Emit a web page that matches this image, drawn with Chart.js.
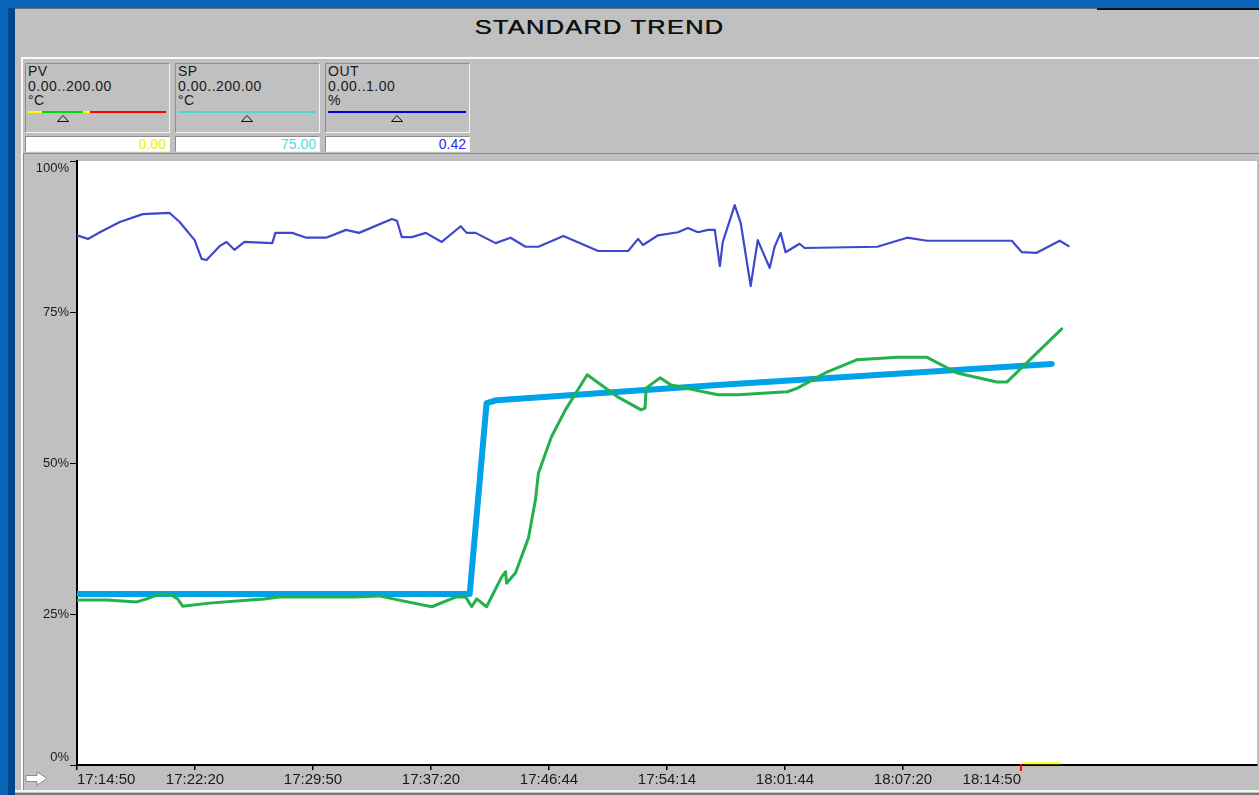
<!DOCTYPE html>
<html>
<head>
<meta charset="utf-8">
<title>STANDARD TREND</title>
<script src="https://cdn.jsdelivr.net/npm/chart.js@4.4.1/dist/chart.umd.min.js"></script>
<style>
  body { margin: 0; width: 1259px; height: 795px; overflow: hidden; position: relative;
         background: #0a66b8; font-family: "Liberation Sans", Arial, sans-serif; }
  .navy { position: absolute; left: 8px; top: 8px; width: 7px; height: 787px; background: #00468c; }
  .win { position: absolute; left: 15px; top: 8px; width: 1244px; height: 787px; background: #c0c0c0;
         border-top: 1px solid #6e6e6e; box-sizing: border-box; }
  .topblack { position: absolute; left: 1097px; top: 8px; width: 162px; height: 2px; background: #111; }
  .title { position: absolute; left: 0; top: 16px; width: 1198px; text-align: center; font-size: 20px;
           color: #111; letter-spacing: 1px; }
  .title span { display: inline-block; transform: scaleX(1.27); text-shadow: 0.4px 0 0 #111; }
  .panel { position: absolute; left: 21px; top: 57px; width: 1238px; height: 733px;
           border-top: 2px solid #fafafa; border-left: 2px solid #fafafa; box-sizing: border-box; }
  .tag { position: absolute; top: 63px; width: 145px; height: 70px; box-sizing: border-box;
         border: 1px solid; border-color: #8c8c8c #f2f2f2 #f2f2f2 #8c8c8c; background: #c0c0c0;
         font-size: 14px; line-height: 14.5px; color: #1a1a1a; letter-spacing: 0.5px; padding-left: 2px; }
  .tag .bar { position: absolute; left: 2px; top: 47px; width: 138px; height: 2px; }
  .tag svg { position: absolute; top: 51px; }
  .val { position: absolute; top: 136px; width: 145px; height: 16px; box-sizing: border-box;
         border: 1px solid; border-color: #8c8c8c #f2f2f2 #f2f2f2 #8c8c8c; background: #fff;
         font-size: 14px; line-height: 14px; text-align: right; padding-right: 3px; }
  .frame { position: absolute; left: 23px; top: 153px; width: 1236px; height: 637px; box-sizing: border-box;
           border-top: 1px solid #8a8a8a; border-left: 1px solid #8a8a8a; }
  #wrap { position: absolute; left: 25px; top: 155px; width: 1234px; height: 635px; }
  .arrow { position: absolute; left: 25px; top: 771px; }
  .bottomline { position: absolute; left: 15px; top: 790px; width: 1244px; height: 2px; background: #f4f4f4; }
  .bottomdark { position: absolute; left: 15px; top: 793px; width: 1244px; height: 2px; background: #7a7a7a; }
</style>
</head>
<body>
<div class="navy"></div>
<div class="win"></div>
<div class="topblack"></div>
<div class="title"><span>STANDARD TREND</span></div>
<div class="panel"></div>

<div class="tag" style="left:25px">PV<br>0.00..200.00<br>°C
  <div class="bar" style="background:linear-gradient(to right,#ffff00 0 14px,#00dd00 14px 55px,#ffff00 55px 62px,#ff0000 62px)"></div>
  <svg width="12" height="7" style="left:31px"><polygon points="6,0.5 11.5,6.5 0.5,6.5" fill="none" stroke="#111" stroke-width="1"/></svg>
</div>
<div class="tag" style="left:175px">SP<br>0.00..200.00<br>°C
  <div class="bar" style="background:#48d8d0"></div>
  <svg width="12" height="7" style="left:65px"><polygon points="6,0.5 11.5,6.5 0.5,6.5" fill="none" stroke="#111" stroke-width="1"/></svg>
</div>
<div class="tag" style="left:325px">OUT<br>0.00..1.00<br>%
  <div class="bar" style="background:#0000e0"></div>
  <svg width="12" height="7" style="left:65px"><polygon points="6,0.5 11.5,6.5 0.5,6.5" fill="none" stroke="#111" stroke-width="1"/></svg>
</div>

<div class="val" style="left:25px;color:#f0f000">0.00</div>
<div class="val" style="left:175px;color:#50dcdc">75.00</div>
<div class="val" style="left:325px;color:#2a2af0">0.42</div>

<div class="frame"></div>
<div id="wrap"><canvas id="trend" width="1234" height="635"></canvas></div>
<svg class="arrow" width="24" height="16"><polygon points="1,4.5 12,4.5 12,0.8 22,7.5 12,14.2 12,10.5 1,10.5" fill="#fff" stroke="#8a8a8a" stroke-width="1"/></svg>
<div class="bottomline"></div>
<div class="bottomdark"></div>

<script>
// x is in tick slots (0 = 17:14:50, 1 = 17:22:20, ...), y in percent of span
var timeLabels = ['17:14:50', '17:22:20', '17:29:50', '17:37:20', '17:46:44', '17:54:14', '18:01:44', '18:07:20', '18:14:50'];
var yTicks = [0, 25, 50, 75, 100];
var nowIndex = 8;

var outX = [0, 0.093, 0.194, 0.363, 0.557, 0.785, 0.870, 0.997, 1.056, 1.098, 1.208, 1.267, 1.334, 1.419, 1.655, 1.681,
  1.824, 1.943, 2.111, 2.280, 2.390, 2.669, 2.711, 2.753, 2.838, 2.956, 3.091, 3.252, 3.302, 3.378, 3.547, 3.674,
  3.801, 3.910, 4.122, 4.417, 4.671, 4.755, 4.797, 4.924, 5.093, 5.177, 5.262, 5.346, 5.405, 5.448, 5.473, 5.574,
  5.625, 5.709, 5.769, 5.870, 5.912, 5.963, 6.005, 6.123, 6.166, 6.782, 7.035, 7.204, 7.922, 8.007, 8.133, 8.328, 8.404];
var outY = [87.7, 87.1, 88.2, 89.9, 91.2, 91.4, 89.9, 86.9, 83.8, 83.6, 85.9, 86.6, 85.3, 86.6, 86.4, 88.1,
  88.1, 87.3, 87.3, 88.6, 88.1, 90.4, 90.1, 87.4, 87.4, 88.1, 86.6, 89.2, 88.1, 88.1, 86.4, 87.3,
  85.8, 85.8, 87.6, 85.1, 85.1, 87.1, 86.1, 87.7, 88.2, 88.9, 88.2, 88.6, 88.6, 82.6, 86.6, 92.7,
  89.7, 79.3, 86.9, 82.3, 85.8, 88.1, 84.9, 86.3, 85.6, 85.8, 87.3, 86.8, 86.8, 84.9, 84.8, 86.8, 85.9];

var spX = [0, 3.328, 3.471, 3.556, 5.431, 8.260];
var spY = [28.3, 28.3, 59.9, 60.4, 62.9, 66.4];

var pvX = [0.008, 0.253, 0.507, 0.591, 0.701, 0.802, 0.853, 0.895, 1.123, 1.461, 1.588, 1.714, 2.348, 2.559, 2.728,
  3.007, 3.209, 3.294, 3.345, 3.387, 3.471, 3.598, 3.632, 3.640, 3.716, 3.826, 3.885, 3.910, 4.020, 4.139, 4.324,
  4.586, 4.780, 4.814, 4.823, 4.941, 5.034, 5.431, 5.600, 6.022, 6.106, 6.360, 6.613, 6.951, 7.204, 7.458, 7.796,
  7.880, 8.345];
var pvY = [27.3, 27.3, 27.0, 27.5, 28.3, 28.1, 27.5, 26.3, 26.8, 27.3, 27.5, 27.8, 27.8, 28.0, 27.3,
  26.2, 27.8, 27.8, 26.2, 27.5, 26.2, 31.1, 32.0, 30.1, 31.8, 37.6, 43.9, 48.3, 54.3, 58.8, 64.6,
  60.9, 58.8, 59.1, 62.4, 64.1, 62.9, 61.3, 61.3, 61.8, 62.4, 65.1, 67.1, 67.5, 67.5, 64.9, 63.4,
  63.4, 72.2];

// live PV stub at 0.00 right after the cursor
var pvNowX = [8.03, 8.33];
var pvNowY = [0.3, 0.3];

function pts(xs, ys) {
  return xs.map(function (x, i) { return { x: x, y: ys[i] }; });
}

var plotBg = {
  id: 'plotBg',
  beforeDraw: function (chart) {
    var a = chart.chartArea, ctx = chart.ctx;
    ctx.save();
    ctx.fillStyle = '#ffffff';
    ctx.fillRect(a.left, a.top, a.right - a.left, a.bottom - a.top);
    ctx.restore();
  }
};

// y labels kept inside the plot height, like the trend window does
var yLabels = {
  id: 'yLabels',
  afterDraw: function (chart) {
    var ctx = chart.ctx, s = chart.scales.y, a = chart.chartArea;
    ctx.save();
    ctx.fillStyle = '#1a1a1a';
    ctx.font = '13px "Liberation Sans"';
    ctx.textAlign = 'right';
    yTicks.forEach(function (v) {
      var y = s.getPixelForValue(v);
      if (v === s.max) { ctx.textBaseline = 'top'; y = a.top + 1; }
      else if (v === s.min) { ctx.textBaseline = 'bottom'; y = a.bottom - 1; }
      else { ctx.textBaseline = 'middle'; }
      ctx.fillText(v + '%', a.left - 8, y);
    });
    ctx.restore();
  }
};

var nowMark = {
  id: 'nowMark',
  afterDraw: function (chart) {
    var ctx = chart.ctx;
    var x = chart.scales.x.getPixelForValue(nowIndex);
    var y = chart.chartArea.bottom;
    ctx.save();
    ctx.strokeStyle = '#ff0000';
    ctx.lineWidth = 2;
    ctx.beginPath();
    ctx.moveTo(x, y - 1);
    ctx.lineTo(x, y + 6);
    ctx.stroke();
    ctx.restore();
  }
};

var lineStyle = { pointRadius: 0, tension: 0, borderJoinStyle: 'round', borderCapStyle: 'round', fill: false };

new Chart(document.getElementById('trend').getContext('2d'), {
  type: 'line',
  data: {
    datasets: [
      Object.assign({ label: 'PV', data: pts(pvX, pvY), borderColor: '#22b14c', borderWidth: 3 }, lineStyle),
      Object.assign({ label: 'PV now', data: pts(pvNowX, pvNowY), borderColor: '#ffff00', borderWidth: 2 }, lineStyle),
      Object.assign({ label: 'SP', data: pts(spX, spY), borderColor: '#00a2e8', borderWidth: 6 }, lineStyle),
      Object.assign({ label: 'OUT', data: pts(outX, outY), borderColor: '#3f48cc', borderWidth: 2.2 }, lineStyle)
    ]
  },
  options: {
    responsive: false,
    animation: false,
    devicePixelRatio: 1,
    layout: { padding: { top: 6, right: 2, left: 0, bottom: 0 } },
    plugins: { legend: { display: false }, tooltip: { enabled: false } },
    scales: {
      x: {
        type: 'linear',
        min: 0,
        max: 10,
        afterFit: function (s) { s.height = 25; },
        afterBuildTicks: function (s) {
          s.ticks = timeLabels.map(function (l, i) { return { value: i }; });
        },
        ticks: {
          align: 'inner',
          maxRotation: 0,
          autoSkip: false,
          padding: 1,
          color: '#1a1a1a',
          font: { family: 'Liberation Sans', size: 15 },
          callback: function (v) { return timeLabels[v]; }
        },
        grid: { drawOnChartArea: false, drawTicks: true, tickLength: 5, color: '#000', lineWidth: 1.5 },
        border: { color: '#000', width: 2 }
      },
      y: {
        min: 0,
        max: 100,
        afterFit: function (s) { s.width = 52; },
        afterBuildTicks: function (s) {
          s.ticks = yTicks.map(function (v) { return { value: v }; });
        },
        ticks: { display: false },
        grid: { drawOnChartArea: false, drawTicks: true, tickLength: 7, color: '#000', lineWidth: 1 },
        border: { color: '#000', width: 2 }
      }
    }
  },
  plugins: [plotBg, yLabels, nowMark]
});
</script>
</body>
</html>
